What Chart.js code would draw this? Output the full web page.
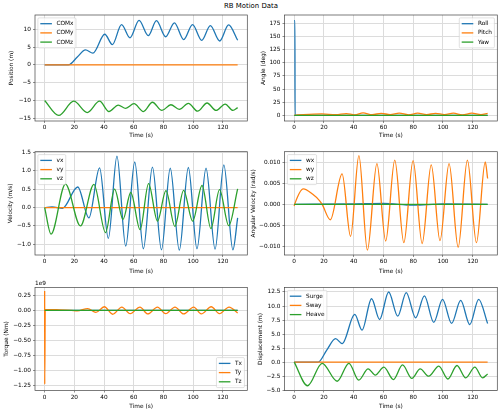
<!DOCTYPE html>
<html>
<head>
<meta charset="utf-8">
<script src="https://cdn.jsdelivr.net/npm/chart.js@4.4.0/dist/chart.umd.min.js"></script>
<style>
  body { margin: 0; background: #fff; }
  #fig { position: relative; width: 500px; height: 414px; overflow: hidden; font-family: "DejaVu Sans", sans-serif; }
  #fig canvas { position: absolute; }
  #suptitle { position: absolute; left: 1px; width: 500px; top: 1px; text-align: center; font-size: 6.95px; line-height: 10px; color: #000; }
</style>
</head>
<body>
<div id="fig">
  <div id="suptitle">RB Motion Data</div>
  <canvas id="c_pos" width="250" height="140" style="left:0;top:0"></canvas>
  <canvas id="c_ang" width="250" height="140" style="left:250px;top:0"></canvas>
  <canvas id="c_vel" width="250" height="136" style="left:0;top:140px"></canvas>
  <canvas id="c_angvel" width="250" height="136" style="left:250px;top:140px"></canvas>
  <canvas id="c_torque" width="250" height="138" style="left:0;top:276px"></canvas>
  <canvas id="c_disp" width="250" height="138" style="left:250px;top:276px"></canvas>
</div>
<script>
// tick positions
const timeTicks = [0, 20, 40, 60, 80, 100, 120];
const posTicks = [-15, -10, -5, 0, 5, 10];
const angleTicks = [0, 25, 50, 75, 100, 125, 150, 175];
const velTicks = [-1.0, -0.5, 0.0, 0.5, 1.0, 1.5];
const angVelTicks = [-0.010, -0.005, 0.000, 0.005, 0.010];
const torqueTicks = [-1.25e9, -1.0e9, -0.75e9, -0.5e9, -0.25e9, 0, 0.25e9];
const dispTicks = [-5.0, -2.5, 0.0, 2.5, 5.0, 7.5, 10.0, 12.5];

// COM position (m)
const comxTime = [0, 16, 22, 27.5, 32.5, 40.5, 45.6, 51.8, 57.5, 63.6, 69.8, 75.3, 81.5, 87.4, 93.7, 99.6, 105.8, 111.6, 117.9, 123.9, 130];
const comxVals = [0, 0, 2.2, 4.2, 3.3, 8.6, 5.7, 11.3, 7.6, 12.5, 8.2, 12.4, 7.9, 11.8, 7.1, 11.3, 6.9, 11.0, 6.7, 11.2, 6.9];
const comyTime = [0, 130];
const comyVals = [0, 0];
const comzTime = [0, 9.5, 19.6, 28.7, 37, 43.3, 49.6, 54.6, 60.2, 66.5, 72.6, 79, 85, 90.7, 96.8, 103, 109.4, 115.5, 121.6, 126.8, 130];
const comzVals = [-10, -14.2, -10.2, -13.4, -10.2, -13.1, -11.3, -12.2, -10.9, -13.1, -10.5, -12.8, -11.2, -12.5, -10.8, -13.0, -10.7, -12.8, -11.0, -12.8, -12.0];

// angles (deg)
const rollTime = [0, 0.5, 0.6, 130];
const rollVals = [180, 180, 0, 0];
const pitchTime = [0, 18.5, 28, 35, 40.7, 46.3, 52.4, 58.5, 64.5, 70.6, 76.8, 83, 89, 95, 101, 107, 113, 119.4, 125.5, 130];
const pitchVals = [0, 2.6, 1.3, 3.3, 1.0, 4.6, 1.2, 3.8, 1.2, 4.2, 1.0, 4.0, 1.2, 3.8, 1.3, 4.0, 1.0, 4.0, 1.3, 3.8];
const yawTime = [0, 130];
const yawVals = [0, 0];

// velocity (m/s)
const vxTime = [0, 5, 12, 22.3, 29.8, 37, 42.9, 48.7, 54.6, 60.7, 66.5, 72.6, 78.7, 84.6, 90.7, 96.8, 102.6, 108.7, 114.8, 120.7, 126.8, 130];
const vxVals = [0, 0.02, -0.02, 0.56, -0.28, 1.08, -0.84, 1.40, -1.05, 1.24, -1.12, 1.10, -1.15, 1.07, -1.16, 1.09, -1.12, 1.07, -1.13, 1.16, -1.15, -0.28];
const vyTime = [0, 130];
const vyVals = [0, 0];
const vzTime = [0, 4.3, 14, 24.1, 33.2, 41, 47.1, 52.8, 58, 64.3, 70, 76, 81.7, 87.7, 93.6, 99.7, 106, 112, 117.8, 124, 130];
const vzVals = [0, -0.72, 0.64, -0.50, 0.63, -0.68, 0.50, -0.32, 0.41, -0.60, 0.65, -0.37, 0.46, -0.51, 0.47, -0.37, 0.60, -0.57, 0.49, -0.49, 0.51];

// angular velocity (rad/s)
const wxTime = [0, 40, 60, 80, 100, 130];
const wxVals = [0, 0.0001, 0.0002, -0.0002, 0.0001, 0];
const wyTime = [0, 0.3, 6.1, 12.5, 17, 18.8, 24.3, 32.2, 37.9, 43.5, 49.2, 55.6, 61.5, 67.6, 73.7, 79.9, 86, 92.1, 98, 104.1, 110.2, 116.4, 122.5, 128.4, 130];
const wyVals = [-0.0004, 0, 0.0037, 0.0024, 0.0009, 0, -0.0037, 0.0073, -0.0077, 0.0117, -0.0110, 0.0098, -0.0088, 0.0106, -0.0092, 0.0105, -0.0094, 0.0095, -0.0087, 0.0098, -0.0103, 0.0106, -0.0092, 0.0102, 0.0062];
const wzTime = [0, 130];
const wzVals = [0, 0];

// torque (Nm)
const txTime = [0, 130];
const txVals = [0, 0];
const tyTime = [0, 0.05, 0.4, 8, 18, 22, 29, 34.5, 40.2, 45.8, 52, 57.6, 64.2, 69.5, 76, 81.5, 87.8, 93.6, 100.4, 105.5, 112.2, 117.7, 124.2, 130];
const tyVals = [0.32e9, -1.23e9, 0.015e9, 0.01e9, 0, -0.01e9, 0.03e9, -0.035e9, 0.06e9, -0.065e9, 0.055e9, -0.055e9, 0.055e9, -0.06e9, 0.055e9, -0.055e9, 0.055e9, -0.06e9, 0.055e9, -0.06e9, 0.06e9, -0.055e9, 0.055e9, -0.045e9];
const tzTime = [0, 130];
const tzVals = [0, 0];

// displacement (m)
const surgeTime = [0, 16, 22, 27.8, 32.3, 40.7, 45.6, 52, 57.4, 63.5, 69.6, 75.3, 81.6, 87.5, 93.8, 99.7, 105.8, 111.9, 118, 124, 130];
const surgeVals = [0, 0, 2.2, 4.2, 3.3, 8.5, 5.7, 11.3, 7.6, 12.5, 8.2, 12.4, 7.9, 11.8, 7.1, 11.2, 6.9, 11.0, 6.7, 11.2, 6.9];
const swayTime = [0, 130];
const swayVals = [0, 0];
const heaveTime = [0, 9, 18.8, 28.9, 36.8, 43.4, 49.7, 54.5, 60.3, 66.7, 72.8, 79.1, 84.7, 90.4, 97.2, 103.3, 109.4, 115.3, 121.4, 126.6, 130];
const heaveVals = [0, -4.2, -0.2, -3.4, -0.2, -3.2, -1.2, -2.3, -0.9, -3.1, -0.5, -2.9, -1.2, -2.5, -0.7, -3.0, -0.6, -2.8, -0.9, -2.8, -2.1];

const colors = ["#1f77b4", "#ff7f0e", "#2ca02c"];
const FONT = "DejaVu Sans";
const FS = 5.8;

pts = (t, v) => t.map((x, i) => ({ x: x, y: v[i] }));
minus = (s) => s.replace("-", "\u2212");

// axes box, legend and offset text like matplotlib
mplDecor = {
    id: "mplDecor",
    afterDatasetsDraw(chart, args, opts) {
        const ctx = chart.ctx;
        const a = chart.chartArea;
        ctx.save();
        ctx.strokeStyle = "#444";
        ctx.lineWidth = 0.7;
        ctx.strokeRect(a.left, a.top, a.right - a.left, a.bottom - a.top);

        ctx.font = FS + "px '" + FONT + "'";
        if (opts.offsetText) {
            ctx.fillStyle = "#000";
            ctx.textBaseline = "bottom";
            ctx.textAlign = "left";
            ctx.fillText(opts.offsetText, a.left, a.top - 1.5);
        }

        const items = chart.data.datasets;
        const pad = 2.4, rowH = 9.2, handle = 11.6, gap = 2.9;
        const textW = Math.max(...items.map(d => ctx.measureText(d.label).width));
        const w = pad + handle + 4.6 + textW + pad;
        const h = 2 * pad + rowH * (items.length - 1) + 6.8;
        const x = opts.loc.includes("left") ? a.left + gap : a.right - gap - w;
        const y = opts.loc.includes("upper") ? a.top + gap : a.bottom - gap - h;
        ctx.beginPath();
        ctx.roundRect(x, y, w, h, 1.2);
        ctx.fillStyle = "rgba(255,255,255,0.8)";
        ctx.fill();
        ctx.strokeStyle = "#cccccc";
        ctx.lineWidth = 0.6;
        ctx.stroke();
        ctx.textAlign = "left";
        ctx.textBaseline = "middle";
        items.forEach((d, i) => {
            const cy = y + pad + 3.4 + i * rowH;
            ctx.beginPath();
            ctx.moveTo(x + pad, cy);
            ctx.lineTo(x + pad + handle, cy);
            ctx.strokeStyle = d.borderColor;
            ctx.lineWidth = 1.3;
            ctx.stroke();
            ctx.fillStyle = "#000";
            ctx.fillText(d.label, x + pad + handle + 4.6, cy);
        });
        ctx.restore();
    }
};

makePanel = (id, p) => {
    const datasets = p.series.map((s, i) => ({
        label: s[0],
        data: pts(s[1], s[2]),
        borderColor: colors[i],
        borderWidth: 1.3,
        pointRadius: 0,
        fill: false,
        cubicInterpolationMode: "monotone",
        order: 2 - i
    }));

    new Chart(document.getElementById(id), {
        type: "line",
        data: { datasets: datasets },
        options: {
            responsive: false,
            animation: false,
            layout: { padding: { top: p.top, right: 2.7, left: 0, bottom: 0 } },
            plugins: {
                legend: { display: false },
                tooltip: { enabled: false },
                mplDecor: { loc: p.loc, offsetText: p.offsetText }
            },
            scales: {
                x: {
                    type: "linear",
                    min: -6.5,
                    max: 136.5,
                    afterBuildTicks: (s) => { s.ticks = timeTicks.map(v => ({ value: v })); },
                    afterFit: (s) => { s.height = p.xh; },
                    border: { display: false },
                    grid: { color: "#dcdcdc", lineWidth: 1, tickColor: "#444", tickLength: 2, tickWidth: 0.6 },
                    ticks: { autoSkip: false, maxRotation: 0, padding: 1.2, color: "#000", font: { family: FONT, size: FS },
                        callback: (v) => String(v) },
                    title: { display: true, text: "Time (s)", color: "#000", font: { family: FONT, size: FS },
                        padding: { top: 0, bottom: p.xtb } }
                },
                y: {
                    type: "linear",
                    min: p.ymin,
                    max: p.ymax,
                    afterBuildTicks: (s) => { s.ticks = p.yticks.map(v => ({ value: v })); },
                    afterFit: (s) => { s.width = p.yw; },
                    border: { display: false },
                    grid: { color: "#dcdcdc", lineWidth: 1, tickColor: "#444", tickLength: 2, tickWidth: 0.6 },
                    ticks: { autoSkip: false, padding: 2, color: "#000", font: { family: FONT, size: FS },
                        callback: (v) => minus(p.fmt(v)) },
                    title: { display: true, text: p.ylabel, color: "#000", font: { family: FONT, size: FS },
                        padding: { top: p.ytp, bottom: 0 } }
                }
            }
        },
        plugins: [mplDecor]
    });
}

makePanel("c_pos", {
    series: [["COMx", comxTime, comxVals], ["COMy", comyTime, comyVals], ["COMz", comzTime, comzVals]],
    ylabel: "Position (m)", ymin: -15.76, ymax: 14.0, yticks: posTicks, fmt: v => v.toFixed(0),
    top: 15, xh: 19, xtb: 0.8, yw: 35, ytp: 8.2, loc: "upper left"
});
makePanel("c_ang", {
    series: [["Roll", rollTime, rollVals], ["Pitch", pitchTime, pitchVals], ["Yaw", yawTime, yawVals]],
    ylabel: "Angle (deg)", ymin: -10.8, ymax: 190.8, yticks: angleTicks, fmt: v => v.toFixed(0),
    top: 15, xh: 19, xtb: 0.8, yw: 34.5, ytp: 9.8, loc: "upper right"
});
makePanel("c_vel", {
    series: [["vx", vxTime, vxVals], ["vy", vyTime, vyVals], ["vz", vzTime, vzVals]],
    ylabel: "Velocity (m/s)", ymin: -1.29, ymax: 1.52, yticks: velTicks, fmt: v => v.toFixed(1),
    top: 11.7, xh: 21, xtb: 1.5, yw: 35, ytp: 7.5, loc: "upper left"
});
makePanel("c_angvel", {
    series: [["wx", wxTime, wxVals], ["wy", wyTime, wyVals], ["wz", wzTime, wzVals]],
    ylabel: "Angular Velocity (rad/s)", ymin: -0.01216, ymax: 0.01264, yticks: angVelTicks, fmt: v => v.toFixed(3),
    top: 11.7, xh: 21, xtb: 1.5, yw: 34.5, ytp: 0.5, loc: "upper left"
});
makePanel("c_torque", {
    series: [["Tx", txTime, txVals], ["Ty", tyTime, tyVals], ["Tz", tzTime, tzVals]],
    ylabel: "Torque (Nm)", ymin: -1.334e9, ymax: 0.38e9, yticks: torqueTicks, fmt: v => (v / 1e9).toFixed(2),
    top: 11.5, xh: 23.5, xtb: 4.5, yw: 35, ytp: 3.2, loc: "lower right", offsetText: "1e9"
});
makePanel("c_disp", {
    series: [["Surge", surgeTime, surgeVals], ["Sway", swayTime, swayVals], ["Heave", heaveTime, heaveVals]],
    ylabel: "Displacement (m)", ymin: -5.05, ymax: 13.3, yticks: dispTicks, fmt: v => v.toFixed(1),
    top: 11.5, xh: 23.5, xtb: 4.5, yw: 34.5, ytp: 7.5, loc: "upper left"
});
</script>
</body>
</html>
